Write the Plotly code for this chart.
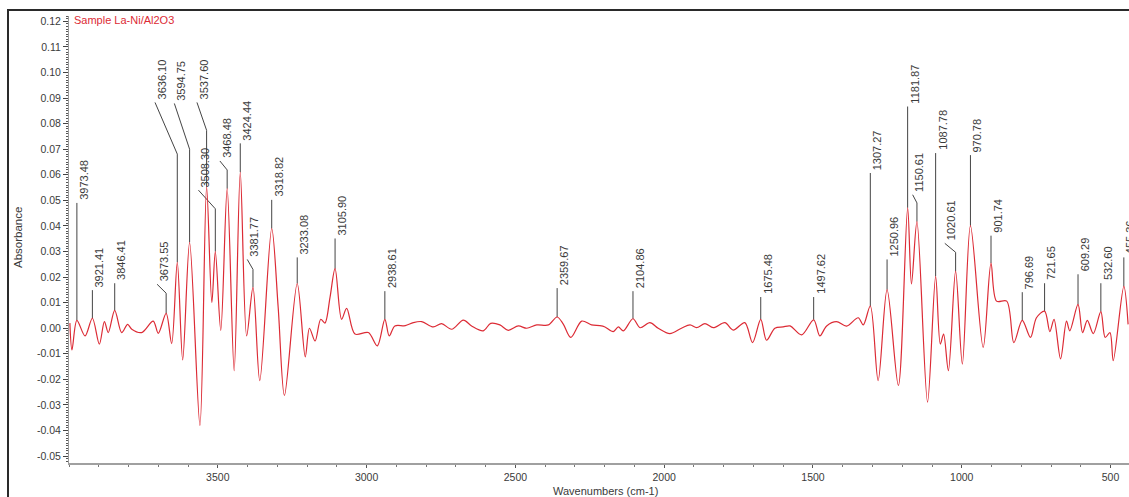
import plotly.graph_objects as go

# ---- spectrum (wavenumber in cm-1, absorbance) ----
wavenumber = [
    3997, 3990, 3973.48, 3946, 3921.41, 3898, 3881, 3868, 3846.41, 3823,
    3803, 3789, 3756, 3717, 3700, 3673.55, 3655, 3636.10, 3618, 3594.75,
    3560, 3537.60, 3520, 3508.30, 3490, 3468.48, 3445, 3424.44, 3403, 3381.77,
    3359, 3318.82, 3297, 3276, 3233.08, 3206, 3192, 3173, 3154, 3140,
    3123, 3105.90, 3084, 3067, 3039, 2994, 2964, 2938.61, 2924, 2905,
    2870, 2843, 2815, 2776, 2748, 2714, 2675, 2647, 2608, 2583,
    2552, 2524, 2490, 2462, 2428, 2389, 2359.67, 2339, 2314, 2277,
    2244, 2216, 2199, 2171, 2154, 2137, 2104.86, 2081, 2048, 2020,
    1981, 1942, 1913, 1891, 1863, 1835, 1796, 1768, 1729, 1703,
    1675.48, 1656, 1628, 1600, 1577, 1538, 1497.62, 1477, 1454, 1421,
    1387, 1348, 1331, 1307.27, 1281, 1250.96, 1213, 1181.87, 1169, 1150.61,
    1115, 1087.78, 1072, 1061, 1045, 1020.61, 998, 970.78, 928, 901.74,
    883, 849, 825, 796.69, 769, 749, 721.65, 704, 690, 668,
    648, 637, 609.29, 594, 578, 558, 532.60, 518, 502, 491,
    455.36, 441,
]
absorbance = [
    0.0020, -0.0085, 0.0031, -0.0030, 0.0039, -0.0062, 0.0026, -0.0017, 0.0070, -0.0017,
    0.0015, -0.0004, -0.0017, 0.0028, -0.0020, 0.0058, -0.0060, 0.0258, -0.0124, 0.0336,
    -0.0380, 0.0553, 0.0100, 0.0300, -0.0008, 0.0546, -0.0166, 0.0610, -0.0030, 0.0160,
    -0.0205, 0.0390, 0.0080, -0.0263, 0.0175, -0.0112, 0.0000, -0.0050, 0.0035, 0.0020,
    0.0120, 0.0233, 0.0035, 0.0078, -0.0023, -0.0017, -0.0069, 0.0035, -0.0030, 0.0009,
    0.0010, 0.0022, 0.0026, 0.0005, 0.0018, -0.0004, 0.0032, 0.0009, -0.0010, 0.0019,
    0.0013, -0.0008, 0.0009, 0.0000, 0.0013, 0.0013, 0.0044, 0.0016, -0.0036, 0.0028,
    0.0013, 0.0010, 0.0005, -0.0013, 0.0005, -0.0010, 0.0037, 0.0002, 0.0022, 0.0000,
    -0.0021, 0.0000, 0.0013, 0.0002, 0.0018, 0.0002, 0.0022, -0.0007, 0.0022, -0.0056,
    0.0035, -0.0047, 0.0000, 0.0005, 0.0009, -0.0026, 0.0033, -0.0030, 0.0009, 0.0026,
    0.0008, 0.0041, 0.0013, 0.0087, -0.0205, 0.0151, -0.0224, 0.0471, 0.0173, 0.0417,
    -0.0289, 0.0203, -0.0062, -0.0023, -0.0166, 0.0223, -0.0140, 0.0401, -0.0075, 0.0255,
    0.0106, 0.0106, -0.0056, 0.0031, -0.0036, 0.0041, 0.0067, -0.0013, 0.0035, -0.0120,
    0.0028, -0.0010, 0.0093, -0.0017, 0.0031, -0.0021, 0.0065, -0.0036, -0.0017, -0.0127,
    0.0164, 0.0015,
]

# ---- peak picks ----
peak_labels = [
    "3973.48", "3921.41", "3846.41", "3673.55", "3636.10", "3594.75", "3537.60",
    "3508.30", "3468.48", "3424.44", "3381.77", "3318.82", "3233.08", "3105.90",
    "2938.61", "2359.67", "2104.86", "1675.48", "1497.62", "1307.27", "1250.96",
    "1181.87", "1150.61", "1087.78", "1020.61", "970.78", "901.74", "796.69",
    "721.65", "609.29", "532.60", "455.36",
]

# leader layout: height where the leader bends, height of its top end,
# and wavenumber of the top end (None = straight vertical leader)
leader_bend = [
    0.0490, 0.0149, 0.0176, 0.0137, 0.0681, 0.0700, 0.0774,
    0.0467, 0.0619, 0.0723, 0.0230, 0.0502, 0.0277, 0.0351,
    0.0145, 0.0157, 0.0145, 0.0122, 0.0122, 0.0607, 0.0269,
    0.0867, 0.0490, 0.0685, 0.0297, 0.0677, 0.0362, 0.0141,
    0.0176, 0.0211, 0.0176, 0.0277,
]
leader_top = [
    0.0490, 0.0149, 0.0176, 0.0172, 0.0883, 0.0879, 0.0883,
    0.0540, 0.0654, 0.0723, 0.0269, 0.0502, 0.0277, 0.0351,
    0.0145, 0.0157, 0.0145, 0.0122, 0.0122, 0.0607, 0.0269,
    0.0867, 0.0522, 0.0685, 0.0332, 0.0677, 0.0362, 0.0141,
    0.0176, 0.0211, 0.0176, 0.0277,
]
leader_end = [
    None, None, None, 3704, 3711, 3646, 3570,
    3565, 3493, None, 3401, None, None, None,
    None, None, None, None, None, None, None,
    None, 1165, None, 1057, None, None, None,
    None, None, None, None,
]

y_tick_labels = ["-0.05", "-0.04", "-0.03", "-0.02", "-0.01", "0.00", "0.01", "0.02",
                 "0.03", "0.04", "0.05", "0.06", "0.07", "0.08", "0.09", "0.10",
                 "0.11", "0.12"]
x_tick_labels = ["3500", "3000", "2500", "2000", "1500", "1000", "500"]

RED = "#dc2b35"
INK = "#3a3a3a"
FONT = "Arial, Liberation Sans, sans-serif"

W, H = 1129, 497
ML, MR, MT, MB = 69, 0, 16, 34
PW, PH = W - ML - MR, H - MT - MB

fig = go.Figure()

# leader lines from each picked peak up to its label
lx, ly = [], []
annotations = []
for lab, bend, top, end in zip(peak_labels, leader_bend, leader_top, leader_end):
    wn = float(lab)
    a = absorbance[wavenumber.index(wn)]
    x_end = wn if end is None else end
    lx += [wn, wn, x_end, None]
    ly += [a, bend, top, None]
    annotations.append(dict(
        x=x_end, y=top, xref="x", yref="y", text=lab, showarrow=False,
        textangle=-90, xanchor="center", yanchor="bottom", xshift=7, yshift=1,
        font=dict(family=FONT, size=11, color=INK),
    ))

fig.add_trace(go.Scatter(x=lx, y=ly, mode="lines",
                         line=dict(color="#444444", width=1),
                         hoverinfo="skip", showlegend=False))

fig.add_trace(go.Scatter(x=wavenumber, y=absorbance, mode="lines",
                         line=dict(color=RED, width=1.2, shape="spline", smoothing=0.9),
                         hoverinfo="skip", showlegend=False))

# sample name, axis titles
annotations += [
    dict(x=3 / PW, y=(H - MB - 20) / PH, xref="paper", yref="paper",
         text="Sample La-Ni/Al2O3", showarrow=False, xanchor="left", yanchor="middle",
         font=dict(family=FONT, size=11, color=RED)),
    dict(x=(18 - ML) / PW, y=(H - MB - 238) / PH, xref="paper", yref="paper",
         text="Absorbance", showarrow=False, textangle=-90,
         xanchor="center", yanchor="middle",
         font=dict(family=FONT, size=11.5, color=INK)),
    dict(x=(605 - ML) / PW, y=(H - MB - 491) / PH, xref="paper", yref="paper",
         text="Wavenumbers (cm-1)", showarrow=False, xanchor="center", yanchor="middle",
         font=dict(family=FONT, size=11, color=INK)),
]

# outer window frame
shapes = [dict(type="rect", xref="paper", yref="paper",
               x0=(8 - ML) / PW, x1=1.05, y0=-0.3, y1=(H - MB - 10) / PH,
               line=dict(color="#2a2a2a", width=2), fillcolor="rgba(0,0,0,0)",
               layer="above")]

fig.update_layout(
    width=W, height=H,
    margin=dict(l=ML, r=MR, t=MT, b=MB, pad=0),
    paper_bgcolor="white", plot_bgcolor="white",
    showlegend=False,
    annotations=annotations,
    shapes=shapes,
    font=dict(family=FONT, size=11, color=INK),
    xaxis=dict(
        range=[4000, 438], showgrid=False, zeroline=False,
        showline=True, linecolor="#a0a0a0", linewidth=2,
        tickmode="array", tickvals=[float(t) for t in x_tick_labels], ticktext=x_tick_labels,
        ticks="outside", ticklen=3, tickcolor="#555555", tickwidth=1,
        ticklabelstandoff=0,
        minor=dict(dtick=100, tick0=0, ticks="outside", ticklen=2, tickcolor="#777777"),
        tickfont=dict(family=FONT, size=10.5, color=INK),
    ),
    yaxis=dict(
        range=[-0.0527, 0.1221], showgrid=False, zeroline=False,
        showline=True, linecolor="#9a9a9a", linewidth=1,
        tickmode="array", tickvals=[float(t) for t in y_tick_labels], ticktext=y_tick_labels,
        ticks="outside", ticklen=5, tickcolor="#444444", tickwidth=1,
        minor=dict(dtick=0.001, tick0=0, ticks="outside", ticklen=2, tickcolor="#555555"),
        tickfont=dict(family=FONT, size=10.5, color=INK),
    ),
)

fig.write_html("out.html")
